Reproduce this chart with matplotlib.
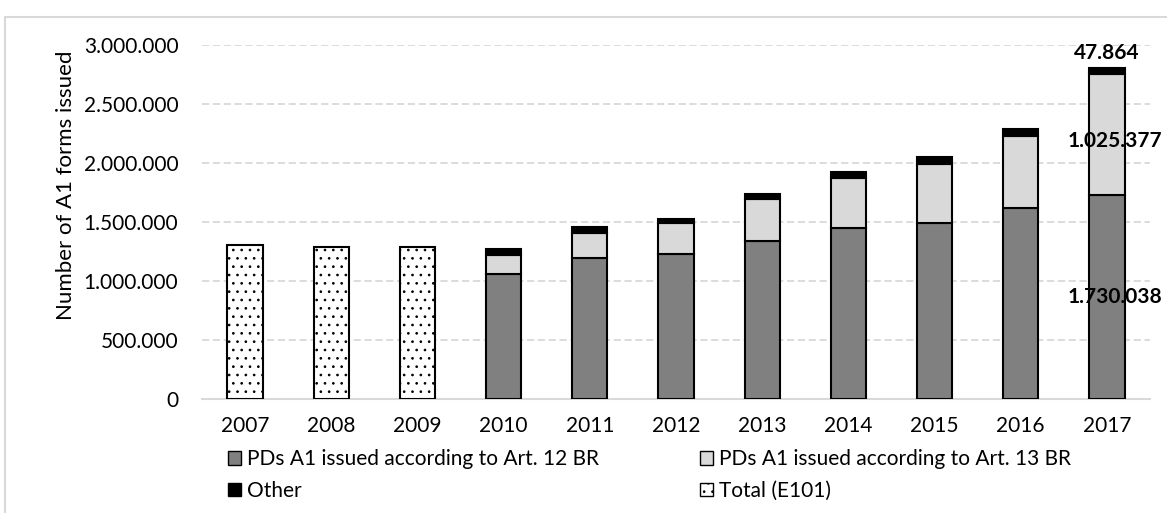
import matplotlib.pyplot as plt
from matplotlib.patches import Patch, Rectangle
from matplotlib.ticker import FuncFormatter

plt.rcParams["font.family"] = ["Lato", "DejaVu Sans"]
plt.rcParams["hatch.linewidth"] = 0.7

YEARS = ["2007", "2008", "2009", "2010", "2011", "2012", "2013", "2014", "2015", "2016", "2017"]
TOTAL_E101 = [1305000, 1288000, 1288000]
ART12 = [1057000, 1192000, 1226000, 1341000, 1449000, 1489000, 1616000, 1730038]
ART13 = [161000, 217000, 263000, 356000, 426000, 503000, 615000, 1025377]
OTHER = [53000, 46000, 36000, 43000, 46000, 56000, 60000, 47864]

GRID = "#d9d9d9"
DARK = "#808080"
LIGHT = "#d9d9d9"


def dotted(v, _):
    return f"{int(v):,}".replace(",", ".")


fig = plt.figure(figsize=(11.67, 5.13), dpi=100)
ax = fig.add_axes([202 / 1167, 1 - 399 / 513, 948 / 1167, 354 / 513])

# outer chart border
fig.patches.append(Rectangle((5 / 1167, -0.01), 1.0, 1 - 17 / 513 + 0.01,
                             transform=fig.transFigure, fill=False,
                             edgecolor=GRID, linewidth=1.5))

w = 0.41
lw = 1.5
x_old = list(range(len(TOTAL_E101)))
x_new = list(range(len(TOTAL_E101), len(YEARS)))

ax.bar(x_old, TOTAL_E101, w, color="white", edgecolor="black", hatch="..",
       linewidth=lw, zorder=3)

bottom13 = ART12
bottom_other = [a + b for a, b in zip(ART12, ART13)]
ax.bar(x_new, ART12, w, color=DARK, edgecolor="black", linewidth=lw, zorder=3)
ax.bar(x_new, ART13, w, bottom=bottom13, color=LIGHT, edgecolor="black",
       linewidth=lw, zorder=3)
ax.bar(x_new, OTHER, w, bottom=bottom_other, color="black", edgecolor="black",
       linewidth=lw, zorder=3)

# data labels for the last year
xl = x_new[-1]
lab_kw = dict(fontsize=15, fontweight="bold", color="black", zorder=5)
ax.text(xl + 0.09, ART12[-1] / 2, dotted(ART12[-1], None), ha="center", va="center", **lab_kw)
ax.text(xl + 0.09, ART12[-1] + ART13[-1] / 2 - 60000, dotted(ART13[-1], None),
        ha="center", va="center", **lab_kw)
ax.text(xl, bottom_other[-1] + OTHER[-1] + 40000, dotted(OTHER[-1], None),
        ha="center", va="bottom", **lab_kw)

ax.set_xlim(-0.5, 10.5)
ax.set_ylim(0, 3000000)
ax.set_yticks(range(0, 3000001, 500000))
ax.yaxis.set_major_formatter(FuncFormatter(dotted))
ax.set_xticks(range(len(YEARS)))
ax.set_xticklabels(YEARS)
ax.tick_params(axis="both", length=0, labelsize=15, colors="black")
ax.tick_params(axis="y", pad=17)
ax.tick_params(axis="x", pad=12)

ax.grid(axis="y", color=GRID, linestyle=(0, (4, 2)), linewidth=1.3, zorder=0)
for s in ["top", "right", "left"]:
    ax.spines[s].set_visible(False)
ax.spines["bottom"].set_color(GRID)
ax.spines["bottom"].set_linewidth(1.5)

ax.set_ylabel("Number of A1 forms issued", fontsize=16)
ax.yaxis.set_label_coords((76 - 202) / 948, (399 - 185) / 354)

handles = [
    Patch(facecolor=DARK, edgecolor="black", label="PDs A1 issued according to Art. 12 BR"),
    Patch(facecolor="black", edgecolor="black", label="Other"),
    Patch(facecolor=LIGHT, edgecolor="black", label="PDs A1 issued according to Art. 13 BR"),
    Patch(facecolor="white", edgecolor="black", hatch="..", label="Total (E101)"),
]
fig.legend(handles=handles, loc="upper left", bbox_to_anchor=(220 / 1167, 1 - 441 / 513),
           ncol=2, frameon=False, fontsize=15, handlelength=0.6, handleheight=0.6,
           handletextpad=0.3, columnspacing=4.85, labelspacing=0.55, borderaxespad=0)

fig.savefig("out.png", dpi=100, facecolor="white")
